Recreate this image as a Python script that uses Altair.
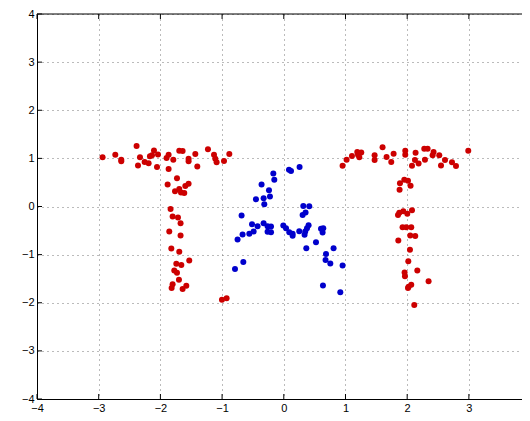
import altair as alt
import pandas as pd

# ---- data ----
red_x = [-2.937, -2.731, -2.634, -2.634, -2.386, -2.331, -2.363, -2.256, -2.191, -2.169,
         -2.104, -2.136, -2.039, -2.055, -1.900, -1.867, -1.791, -1.867, -1.694, -1.640,
         -1.543, -1.543, -1.434, -1.402, -1.229, -1.131, -1.110, -1.089, -0.969, -0.883,
         -1.731, -1.883, -1.543, -1.596, -1.694, -1.763, -1.666, -1.613, -1.835, -1.802,
         -1.715, -1.673, -1.856, -1.673, -1.823, -1.694, -1.532, -1.742, -1.661, -1.775,
         -1.731, -1.699, -1.802, -1.818, -1.580, -1.640, -1.002, -0.927,
         0.953, 1.018, 1.105, 1.191, 1.224, 1.256, 1.203, 1.472, 1.472, 1.601,
         1.666, 1.742, 1.780, 1.969, 1.969, 2.078, 2.136, 2.126, 2.185, 2.277,
         2.331, 2.288, 2.428, 2.412, 2.520, 2.613, 2.548, 2.726, 2.791, 2.990,
         1.883, 1.953, 2.013, 1.877, 2.055, 1.851, 1.872, 1.937, 2.002, 2.078,
         1.925, 1.985, 2.066, 2.050, 2.131, 1.856, 2.045, 2.018, 2.164, 1.958,
         1.964, 2.347, 2.066, 2.023, 2.013, 2.115]
red_y = [1.022, 1.075, 0.974, 0.941, 1.259, 1.022, 0.851, 0.927, 0.900, 1.043,
         1.165, 1.063, 1.083, 0.819, 1.008, 1.075, 0.974, 0.778, 1.157, 1.151,
         0.994, 0.941, 1.090, 0.831, 1.191, 1.075, 0.994, 0.921, 0.947, 1.090,
         0.587, 0.458, 0.473, 0.424, 0.363, 0.316, 0.289, 0.281, -0.051, -0.208,
         -0.228, -0.350, -0.519, -0.601, -0.872, -0.941, -1.124, -1.191, -1.218, -1.328,
         -1.375, -1.523, -1.613, -1.695, -1.646, -1.715, -1.939, -1.904,
         0.845, 0.974, 1.049, 1.130, 1.022, 1.124, 1.075, 1.063, 0.967, 1.232,
         1.029, 0.927, 1.096, 1.157, 1.075, 0.845, 1.116, 0.967, 0.892, 1.198,
         1.198, 0.974, 1.130, 1.063, 1.063, 0.967, 0.851, 0.921, 0.839, 1.157,
         0.485, 0.554, 0.534, 0.350, 0.432, -0.179, -0.132, -0.098, -0.153, -0.077,
         -0.432, -0.432, -0.432, -0.601, -0.615, -0.709, -0.900, -1.136, -1.328, -1.369,
         -1.450, -1.552, -1.625, -1.666, -1.695, -2.047]

blue_x = [0.084, 0.117, 0.256, -0.170, -0.154, -0.360, -0.240, -0.224, -0.327, -0.451,
          -0.316, 0.316, 0.413, 0.353, 0.305, -0.684, -0.515, -0.327, -0.425, -0.263,
          -0.207, -0.008, 0.036, 0.402, 0.376, -0.489, -0.559, -0.263, -0.207, 0.089,
          0.143, 0.251, 0.348, 0.603, 0.640, 0.629, -0.668, 0.143, 0.337, -0.749,
          0.522, 0.365, 0.807, 0.684, 0.677, 0.754, 0.953, -0.656, -0.791, 0.635,
          0.916]
blue_y = [0.764, 0.737, 0.819, 0.688, 0.554, 0.458, 0.336, 0.208, 0.173, 0.153,
          0.045, 0.010, 0.004, -0.126, -0.179, -0.187, -0.371, -0.350, -0.411, -0.411,
          -0.418, -0.397, -0.452, -0.391, -0.452, -0.519, -0.566, -0.525, -0.534, -0.534,
          -0.566, -0.513, -0.519, -0.464, -0.452, -0.540, -0.580, -0.607, -0.587, -0.688,
          -0.743, -0.866, -0.866, -0.988, -1.110, -1.185, -1.226, -1.151, -1.299, -1.640,
          -1.782]

x_ticks = [-4, -3, -2, -1, 0, 1, 2, 3]
y_ticks = [-4, -3, -2, -1, 0, 1, 2, 3, 4]
x_range = [-4, 3.861]   # right edge of the box lies just outside the reference window
y_range = [-4, 4]

groups = ["red", "blue"]
colors = ["#CC0000", "#0000CC"]

# ---- tables ----
pts = pd.concat([
    pd.DataFrame({"x": red_x, "y": red_y, "g": "red"}),
    pd.DataFrame({"x": blue_x, "y": blue_y, "g": "blue"}),
])
xt = pd.DataFrame({"x": x_ticks})
yt = pd.DataFrame({"y": y_ticks})
one = pd.DataFrame({"k": [0]})

W, H = 485, 385
xs = alt.Scale(domain=x_range, nice=False, zero=False)
ys = alt.Scale(domain=y_range, nice=False, zero=False)
xa = alt.Axis(values=x_ticks, format="d", title=None, ticks=False, labelPadding=3,
              grid=True, gridDash=[1, 4], gridColor="#777777", labelFlush=False)
ya = alt.Axis(values=y_ticks, format="d", title=None, ticks=False, labelPadding=3,
              grid=True, gridDash=[1, 4], gridColor="#777777", labelFlush=False)

X = alt.X("x:Q", scale=xs, axis=xa)
Y = alt.Y("y:Q", scale=ys, axis=ya)

points = alt.Chart(pts).mark_circle(size=36, opacity=1).encode(
    x=X, y=Y,
    color=alt.Color("g:N", scale=alt.Scale(domain=groups, range=colors), legend=None),
)

bottom_ticks = alt.Chart(xt).mark_rule(color="black", strokeWidth=1).encode(
    x=X, y=alt.value(H), y2=alt.value(H - 5))
top_ticks = alt.Chart(xt).mark_rule(color="black", strokeWidth=1).encode(
    x=X, y=alt.value(0), y2=alt.value(5))
left_ticks = alt.Chart(yt).mark_rule(color="black", strokeWidth=1).encode(
    y=Y, x=alt.value(0), x2=alt.value(5))
top_line = alt.Chart(one).mark_rule(color="black", strokeWidth=1).encode(
    x=alt.value(0), x2=alt.value(W), y=alt.value(0))

chart = alt.layer(bottom_ticks, top_ticks, left_ticks, top_line, points).properties(
    width=W, height=H,
    autosize=alt.AutoSizeParams(type="none"),
    padding={"left": 29, "top": 6, "right": 0, "bottom": 14},
).configure_view(
    stroke=None
).configure_axis(
    domainColor="black", domainWidth=1,
    labelFont="Liberation Sans", labelFontSize=11, labelColor="black",
)

chart.save("out.html", embed_options={"renderer": "svg", "actions": False})
